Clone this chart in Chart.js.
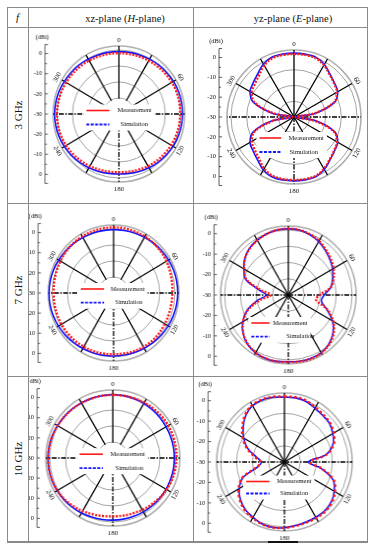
<!DOCTYPE html>
<html>
<head>
<meta charset="utf-8">
<script src="https://cdn.jsdelivr.net/npm/chart.js@4.4.1/dist/chart.umd.min.js"></script>
<style>
  body { margin:0; width:374px; height:550px; background:#fff; position:relative; overflow:hidden;
         font-family:"Liberation Serif","Times New Roman",serif; color:#111; }
  .ln { position:absolute; background:#8a8a8a; }
  .hd { position:absolute; font-size:10.5px; transform:translate(-50%,-50%); white-space:nowrap; }
  .rl { position:absolute; font-size:11px; transform:translate(-50%,-50%) rotate(-90deg); white-space:nowrap; }
  canvas { position:absolute; transform-origin:0 0; }
</style>
</head>
<body>
<!-- table frame -->
<div class="ln" style="left:7px;top:7px;width:361px;height:1px"></div>
<div class="ln" style="left:7px;top:27px;width:361px;height:1px"></div>
<div class="ln" style="left:7px;top:203px;width:361px;height:1px"></div>
<div class="ln" style="left:7px;top:376px;width:361px;height:1px"></div>
<div class="ln" style="left:7px;top:541px;width:361px;height:2px"></div>
<div class="ln" style="left:7px;top:7px;width:1px;height:536px"></div>
<div class="ln" style="left:28px;top:7px;width:1px;height:536px"></div>
<div class="ln" style="left:193px;top:7px;width:1px;height:536px"></div>
<div class="ln" style="left:367px;top:7px;width:1px;height:536px"></div>
<div style="position:absolute;left:268px;top:541px;width:30px;height:2px;background:#111"></div>

<div class="hd" style="left:17.5px;top:17px;font-style:italic;font-size:11px">f</div>
<div class="hd" style="left:125px;top:17.5px">xz-plane (<i>H</i>-plane)</div>
<div class="hd" style="left:293px;top:17.5px">yz-plane (<i>E</i>-plane)</div>

<script>
Chart.defaults.font.family = '"Liberation Serif", serif';

// angle categories (deg, clockwise from top)
const angles = [0,10,20,30,40,50,60,70,80,90,100,110,120,130,140,150,160,170,
                180,190,200,210,220,230,240,250,260,270,280,290,300,310,320,330,340,350];
const angleTickLabels = ['0','60','120','180','240','300'];
const dbTickLabels = ['0','-10','-20','-30','-20','-10','0'];
const unitLabel = '(dBi)';
const gridValues = [-40,-30,-20,-10,0,2.5];
const legendLabels = ['Measurement','Simulation'];
const rowLabels = ['3 GHz','7 GHz','10 GHz'];

// 3 GHz
const h3Sim  = [-1.0,-0.9,-0.7,-0.4,0.0,0.4,0.8,1.0,1.1,1.1,1.0,0.8,0.5,0.0,-0.6,-1.2,-1.8,-2.3,
                -2.5,-2.3,-1.8,-1.2,-0.5,0.2,0.8,1.2,1.4,1.5,1.4,1.2,0.8,0.4,0.0,-0.4,-0.7,-0.9];
const h3Meas = [-2.0,-1.9,-1.8,-1.5,-1.2,-0.8,-0.5,-0.3,-0.3,-0.4,-0.5,-0.7,-1.0,-1.4,-1.9,-2.4,-3.0,-3.4,
                -3.6,-3.4,-3.0,-2.4,-1.8,-1.2,-0.6,-0.2,0.0,0.0,-0.1,-0.3,-0.6,-0.9,-1.2,-1.5,-1.8,-1.9];
const e3Sim  = [0.5,0.5,0.4,-1.5,-4.5,-6.5,-8.0,-12.5,-26,-39,-26,-12.5,-8.0,-6.5,-4.5,-1.5,0.4,0.5,
                0.5,0.6,0.5,-1.2,-4.2,-6.2,-7.8,-12.5,-26,-39,-26,-12.5,-7.8,-6.2,-4.2,-1.2,0.5,0.6];
const e3Meas = [0.0,0.0,-0.2,-2.0,-4.8,-6.8,-8.5,-13,-27,-39,-27,-13,-8.5,-6.8,-4.8,-2.0,-0.2,0.0,
                0.0,0.0,-0.3,-2.2,-5.5,-7.5,-9.0,-13.5,-27,-39,-27,-13.5,-9.0,-7.5,-5.5,-2.2,-0.3,0.0];
// 7 GHz
const h7Sim  = [-0.4,-0.3,-0.1,0.2,0.6,1.0,1.3,1.6,1.7,1.7,1.6,1.4,1.1,0.7,0.3,-0.1,-0.4,-0.6,
                -0.6,-0.5,-0.3,0.1,0.5,1.0,1.4,1.7,1.9,1.9,1.8,1.6,1.3,0.9,0.5,0.1,-0.2,-0.4];
const h7Meas = [1.0,1.0,0.9,0.8,0.6,0.2,-0.3,-0.9,-1.4,-1.7,-1.8,-1.7,-1.5,-1.2,-1.0,-1.1,-1.3,-1.6,
                -1.7,-1.6,-1.4,-1.2,-1.1,-1.0,-0.9,-0.9,-1.0,-1.0,-0.8,-0.5,-0.1,0.3,0.6,0.8,0.9,1.0];
const e7Sim  = [0.7,0.5,-0.5,-2.0,-4.0,-6.0,-8.0,-10.5,-13,-17.5,-19,-14.5,-8.0,-3.5,-0.5,1.1,1.5,1.4,
                1.1,1.5,1.6,1.1,-0.3,-3.0,-7.0,-12.5,-20,-26,-21,-11.5,-7.8,-4.5,-2.3,-1.0,0.0,0.6];
const e7Meas = [0.9,0.7,-0.2,-1.5,-3.5,-5.3,-7.3,-9.8,-13,-20.5,-22.3,-14,-7.5,-3.0,-0.2,1.3,1.8,1.6,
                1.3,1.6,1.6,1.0,-0.5,-3.2,-7.2,-13,-22,-29,-22.5,-12,-8.0,-4.6,-2.4,-1.1,0.0,0.7];
// 10 GHz
const h10Sim  = [-0.5,-0.5,-0.6,-0.7,-0.8,-0.9,-1.0,-1.0,-1.0,-1.0,-1.0,-1.0,-1.0,-1.0,-1.1,-1.1,-1.2,-1.2,
                 -1.2,-1.0,-0.7,-0.3,0.1,0.5,0.8,1.0,1.1,1.1,1.0,0.8,0.5,0.2,0.0,-0.2,-0.4,-0.5];
const h10Meas = [-0.6,-0.5,-0.3,0.0,0.3,0.5,0.6,0.6,0.5,0.4,0.2,-0.1,-0.6,-1.3,-2.0,-2.6,-3.1,-3.4,
                 -3.5,-3.2,-2.6,-1.7,-0.9,0.0,0.6,0.9,1.0,1.0,0.9,0.7,0.4,0.1,-0.1,-0.3,-0.5,-0.6];
const e10Sim  = [-0.1,0.1,-0.3,-1.8,-2.6,-3.1,-5.0,-7.6,-13.5,-25,-16.5,-7.5,-4.0,-1.7,-0.8,-0.7,-0.7,-0.3,
                 0.5,1.0,0.6,-0.7,-1.8,-4.0,-7.3,-12.5,-23,-25.5,-22,-15.5,-10.5,-6.3,-2.4,0.1,0.7,0.5];
const e10Meas = [0.3,0.5,0.2,-1.2,-2.0,-2.6,-4.4,-7.0,-13,-24,-16,-7.0,-3.4,-1.2,-0.3,-0.2,-0.3,0.0,
                 0.6,1.0,0.8,-0.3,-1.3,-3.5,-6.8,-12,-22.5,-25,-21,-14.8,-9.8,-5.6,-1.8,0.5,1.0,0.8];

// layout of the six panels (page px)
const plots = [
  {x:29, y:29, w:163,h:173,cx:119.5,cy:114.5,rx:66.2,ry:68.5,ax:45, plane:'H',meas:h3Meas, sim:h3Sim, leg:[-32.5,-9.5,-3.5,10.5,-1.5,1.5], dash:[2,1.5]},
  {x:194,y:29, w:173,h:173,cx:294.5,cy:117.8,rx:67.2,ry:67.3,ax:219,plane:'E',meas:e3Meas, sim:e3Sim, leg:[-34.5,-12.8,21,35,-5.5,-4.5], dash:[2,1.5]},
  {x:29, y:204,w:163,h:171,cx:114.5,cy:293,  rx:66,  ry:68.7,ax:38, plane:'H',meas:h7Meas, sim:h7Sim, leg:[-32.8,-9.5,-4,9.7,-2.8,1.5], dash:[2,1.5]},
  {x:194,y:204,w:173,h:171,cx:288.8,cy:295,  rx:67.8,ry:69,  ax:214,plane:'E',meas:e7Meas, sim:e7Sim, leg:[-37,-18.8,28,41.7,-15.5,-2], dash:[2,1.5]},
  {x:29, y:377,w:163,h:164,cx:113.2,cy:458.8,rx:67.8,ry:68.8,ax:37, plane:'H',meas:h10Meas,sim:h10Sim,leg:[-33.2,-9.9,-3.8,10.2,-2.5,2.5], dash:[2,1.5]},
  {x:194,y:377,w:173,h:164,cx:285,  cy:462.8,rx:68.3,ry:69.5,ax:208,plane:'E',meas:e10Meas,sim:e10Sim,leg:[-38.3,-15,19.5,31.5,-7.7,-4.3], dash:[2.5,2.5]}
];
const rowCenters = [115, 290, 459];

const RED = '#ff1a1a', BLUE = '#1414ff';
const FONT = '"Liberation Serif", serif';

rowLabels.forEach((t, i) => {
  const d = document.createElement('div');
  d.className = 'rl';
  d.style.left = '17.5px';
  d.style.top = rowCenters[i] + 'px';
  d.textContent = t;
  document.body.appendChild(d);
});

function decor(p, sx) {
  return {
    id: 'decor',
    beforeDatasetsDraw(chart) {
      const s = chart.scales.r, ctx = chart.ctx;
      ctx.save();
      ctx.fillStyle = '#fff';
      if (p.plane === 'H') {
        ctx.beginPath();
        ctx.arc(s.xCenter, s.yCenter, s.getDistanceFromCenterForValue(gridValues[1]) - 0.8, 0, Math.PI * 2);
        ctx.fill();
      }
      // legend background
      const [x0, , y1, y2, t1] = p.leg;
      ctx.font = '6.5px ' + FONT;
      const wM = ctx.measureText(legendLabels[0]).width;
      const lx = s.xCenter + x0 / sx - 3;
      ctx.fillRect(lx, s.yCenter + y1 - 6, s.xCenter + t1 / sx + wM + 3 - lx, y2 - y1 + 12);
      ctx.restore();
    },
    afterDraw(chart) {
      const s = chart.scales.r, ctx = chart.ctx;
      const cx = s.xCenter, cy = s.yCenter;
      ctx.save();
      ctx.fillStyle = '#111';
      ctx.textAlign = 'center';
      ctx.textBaseline = 'middle';

      // angle labels
      ctx.font = '7px ' + FONT;
      angleTickLabels.forEach(lab => {
        const deg = Number(lab);
        const pos = s.getPointPosition(angles.indexOf(deg), s.drawingArea + (deg === 180 ? 7 : 5.5));
        let rot = deg;
        if (deg > 90 && deg < 270) rot = deg - 180;
        ctx.save();
        ctx.translate(pos.x, pos.y);
        ctx.rotate(rot * Math.PI / 180);
        ctx.fillText(lab, 0, 0);
        ctx.restore();
      });

      // dB axis on the left
      const ax = (p.ax - p.x) / sx;
      const step = s.drawingArea * 0.296;
      const top = cy - 3 * step - 9, bot = cy + 3 * step + 9;
      ctx.strokeStyle = '#333';
      ctx.lineWidth = 0.8;
      ctx.beginPath();
      ctx.moveTo(ax + 3, top); ctx.lineTo(ax, top); ctx.lineTo(ax, bot); ctx.lineTo(ax + 3, bot);
      for (let k = -6; k <= 6; k++) {
        const y = cy + k * step / 2;
        ctx.moveTo(ax, y);
        ctx.lineTo(ax + (k % 2 === 0 ? 3 : 2), y);
      }
      ctx.stroke();
      ctx.font = '6.5px ' + FONT;
      ctx.textAlign = 'right';
      dbTickLabels.forEach((lab, i) => ctx.fillText(lab, ax - 3, cy + (i - 3) * step));
      ctx.textAlign = 'center';
      ctx.fillText(unitLabel, ax - 3, top - 7);

      // legend
      const [x0, x1, y1, y2, t1, t2] = p.leg;
      ctx.lineWidth = 1.6;
      ctx.strokeStyle = RED;
      ctx.setLineDash([]);
      ctx.beginPath(); ctx.moveTo(cx + x0 / sx, cy + y1); ctx.lineTo(cx + x1 / sx, cy + y1); ctx.stroke();
      ctx.lineWidth = 1.8;
      ctx.strokeStyle = BLUE;
      ctx.setLineDash([3, 1.5]);
      ctx.beginPath(); ctx.moveTo(cx + x0 / sx, cy + y2); ctx.lineTo(cx + x1 / sx, cy + y2); ctx.stroke();
      ctx.setLineDash([]);
      ctx.textAlign = 'left';
      ctx.fillText(legendLabels[0], cx + t1 / sx, cy + y1);
      ctx.fillText(legendLabels[1], cx + t2 / sx, cy + y2);
      ctx.restore();
    }
  };
}

plots.forEach(p => {
  const sx = p.rx / p.ry;
  const w = Math.round(p.w / sx);
  const c = document.createElement('canvas');
  c.width = w;
  c.height = p.h;
  c.style.left = p.x + 'px';
  c.style.top = p.y + 'px';
  c.style.width = w + 'px';
  c.style.height = p.h + 'px';
  c.style.transform = 'scaleX(' + sx + ')';
  document.body.appendChild(c);

  const icx = (p.cx - p.x) / sx, icy = p.cy - p.y, R = p.ry;
  new Chart(c, {
    type: 'radar',
    data: {
      labels: angles.map(String),
      datasets: [
        { label: legendLabels[0], data: p.meas, borderColor: RED, borderWidth: 2.4, borderDash: p.dash,
          pointRadius: 0, fill: false, tension: 0.35 },
        { label: legendLabels[1], data: p.sim, borderColor: BLUE, borderWidth: 1.6,
          pointRadius: 0, fill: false, tension: 0.35 }
      ]
    },
    options: {
      responsive: false,
      animation: false,
      devicePixelRatio: 1,
      layout: { padding: { left: icx - R, right: w - icx - R, top: icy - R, bottom: p.h - icy - R } },
      plugins: { legend: { display: false }, tooltip: { enabled: false } },
      scales: {
        r: {
          min: gridValues[0],
          max: gridValues[gridValues.length - 1],
          afterBuildTicks: sc => { sc.ticks = gridValues.map(v => ({ value: v })); },
          ticks: { display: false },
          pointLabels: { display: false },
          grid: {
            circular: true,
            color: ctx => ctx.index === gridValues.length - 1 ? '#b0b0b0' : '#8c8c8c',
            lineWidth: ctx => ctx.index === gridValues.length - 1 ? 1.6 : 0.8
          },
          angleLines: {
            color: '#000',
            lineWidth: ctx => ctx.index % 3 === 0 ? 1.3 : 0,
            borderDash: ctx => (ctx.index % 9 === 0 && ctx.index !== 0) ? [5, 1.5, 1.5, 1.5] : []
          }
        }
      }
    },
    plugins: [decor(p, sx)]
  });
});
</script>
</body>
</html>
